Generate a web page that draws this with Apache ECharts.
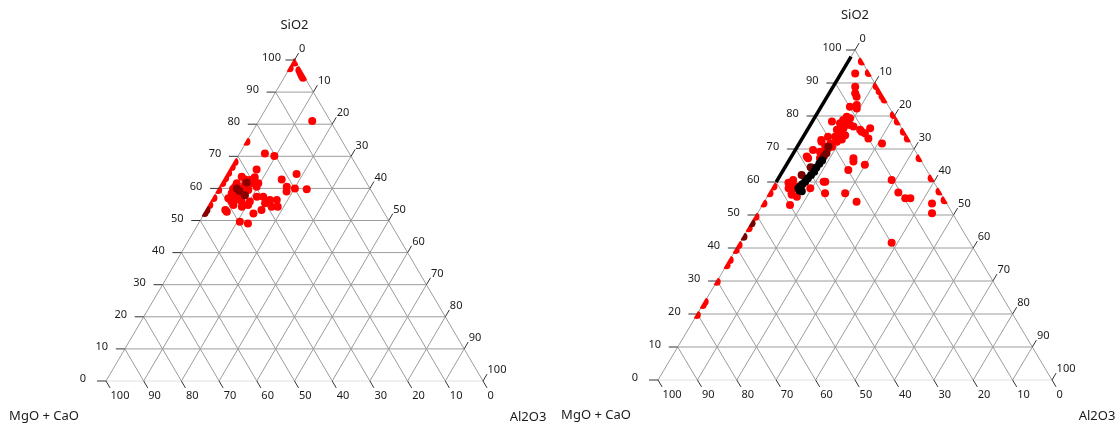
<!DOCTYPE html>
<html><head><meta charset="utf-8">
<script src="https://cdn.jsdelivr.net/npm/echarts@6/dist/echarts.min.js"></script>
<style>html,body{margin:0;padding:0;background:#fff}#c{width:1119px;height:427px}</style>
</head><body><div id="c"></div><script>
// Tick values shared by the three ternary axes
const ticks = [0, 10, 20, 30, 40, 50, 60, 70, 80, 90, 100];
const axisNames = ['SiO2', 'MgO + CaO', 'Al2O3'];

// Points as [SiO2, MgO + CaO, Al2O3]
const leftRed = [
  [70.9,22.4,6.7],[70.1,20.3,9.6],[65.9,27.1,7.0],[63.6,32.2,4.2],[62.8,31.7,5.5],[62.6,30.5,6.9],
  [63.5,28.8,7.7],[61.6,34.5,3.9],[60.5,35.5,4.0],[60.0,34.5,5.5],[61.1,32.6,6.3],[59.5,32.5,8.0],
  [60.5,29.8,9.7],[61.6,28.8,9.6],[61.6,30.6,7.8],[62.8,22.0,15.2],[64.5,17.2,18.3],[60.5,21.8,17.7],
  [60.0,19.9,20.1],[59.7,16.9,23.4],[59.0,22.6,18.4],[58.5,37.4,4.1],[57.9,36.4,5.7],[56.9,39.1,4.0],
  [56.4,37.6,6.0],[55.9,36.1,8.0],[55.9,33.9,10.2],[57.4,31.3,11.3],[57.4,29.6,13.0],[55.4,30.1,14.5],
  [56.4,28.3,15.3],[56.4,26.5,17.1],[54.3,28.9,16.8],[54.3,27.3,18.4],[53.3,32.1,14.6],[52.2,34.8,13.0],
  [53.3,41.7,5.0],[52.7,41.6,5.7],[54.8,38.8,6.4],[54.3,36.8,8.9],[54.8,34.9,10.3],[49.6,39.7,10.7],
  [49.1,37.8,13.1],[55.9,38.7,5.4],[57.2,36.3,6.5],[81.0,4.8,14.2],[59.5,35.2,5.3],[58.9,34.2,6.9],
  [59.8,36.4,3.8]
];
const leftEdge = [
  [74.5,25.5,0],[68.2,31.8,0],[66.7,33.3,0],[64.8,35.2,0],[63.2,36.8,0],[61.7,38.3,0],[59.5,40.5,0],
  [57.0,43.0,0],[54.8,45.2,0],[97.4,2.6,0],[99.2,0.4,0.4],[96.8,0.3,2.9],[96.0,0.4,3.6],[95.2,0.5,4.3],
  [94.5,0.5,5.0]
];
const leftDark = [
  [60.0,35.3,4.7],[61.8,31.8,6.4],[57.9,34.2,7.9],[53.3,46.7,0],[52.3,47.7,0],[59.2,35.0,5.8]
];

const rightRed = [
  [92.9,3.5,3.6],[88.9,5.5,5.6],[86.9,6.5,6.6],[85.8,6.7,7.5],[83.3,7.9,8.8],[82.8,9.9,7.3],
  [82.3,8.4,9.3],[79.8,12.2,8.0],[79.3,11.6,9.1],[78.8,13.6,7.6],[77.8,14.9,7.3],[78.3,16.7,5.0],
  [77.8,13.2,9.0],[77.3,12.6,10.1],[76.8,12.0,11.2],[76.3,14.8,8.9],[75.8,16.7,7.5],[74.8,16.4,8.8],
  [74.2,15.4,10.4],[73.7,18.2,8.1],[72.9,16.9,10.2],[72.2,18.5,9.3],[71.7,20.4,7.9],[75.8,10.8,13.4],
  [74.8,10.1,15.1],[76.3,8.0,15.7],[73.2,10.0,16.8],[71.7,7.3,21.0],[72.2,22.4,5.4],[70.7,22.2,7.1],
  [70.2,21.7,8.1],[70.7,20.5,8.8],[69.2,24.3,6.5],[68.7,23.2,8.1],[67.2,25.3,7.5],[67.2,28.3,4.5],
  [60.6,35.4,4.0],[59.6,36.7,3.7],[58.1,37.8,4.1],[58.1,36.6,5.3],[56.1,38.0,5.9],[55.5,37.0,7.5],
  [53.0,40.0,7.0],[58.1,32.3,9.6],[60.1,27.5,12.4],[67.2,16.8,16.0],[66.2,17.3,16.5],[63.6,19.9,16.5],
  [65.2,14.9,19.9],[56.6,24.2,19.2],[54.0,22.6,23.4],[60.6,10.4,29.0],[56.8,10.6,32.6],[55.1,9.7,35.2],
  [55.1,8.4,36.5],[53.5,3.7,42.8],[50.5,5.2,44.3],[41.6,19.9,38.5],[75.2,10.7,14.1],[67.7,28.4,3.9],
  [56.6,29.3,14.1],[69.7,25.8,4.5],[72.7,22.2,5.1],[73.7,20.0,6.3],[59.8,37.0,3.2],[58.6,35.5,5.9],
  [56.6,37.8,5.6],[60.1,27.9,12.0]
];
const rightEdge = [
  [96.5,0,3.5],[93.0,0,7.0],[89.0,0,11.0],[87.5,0,12.5],[86.0,0,14.0],[85.0,0,15.0],[80.3,0,19.7],
  [78.3,0,21.7],[75.2,0,24.8],[73.2,0,26.8],[67.2,0,32.8],[61.1,0,38.9],[57.1,0,42.9],[54.5,0,45.5],
  [58.6,41.4,0],[56.6,43.4,0],[53.5,46.5,0],[49.5,50.5,0],[46.0,54.0,0],[40.9,59.1,0],[39.4,60.6,0],
  [36.4,63.6,0],[34.8,65.2,0],[29.8,70.2,0],[23.7,76.3,0],[22.7,77.3,0],[19.7,80.3,0]
];
const rightDark = [
  [68.7,22.9,8.4],[66.7,25.2,8.1],[62.1,32.5,5.4],[70.7,21.4,7.9],[64.5,29.0,6.5],[67.8,24.0,8.2],
  [43.4,56.6,0],[47.5,52.5,0]
];
const rightBlack = [
  [66.5,25.1,8.4],[65.5,26.3,8.2],[64.4,27.6,8.0],[63.1,28.8,8.1],[62.1,30.1,7.8],[61.1,31.4,7.5],
  [60.1,32.6,7.3],[59.3,33.7,7.0],[58.6,34.6,6.8],[58.1,35.3,6.6],[57.4,35.4,7.2],[57.2,34.9,7.9]
];
const rightLine = [[60,40,0],[98,2,0]];

// ternary -> cartesian (x = Al2O3 + SiO2/2, y = SiO2), in percent
function toXY(t) {
  const s = t[0] + t[1] + t[2];
  const a = t[0] / s * 100, c = t[2] / s * 100;
  return [c + a / 2, a];
}

const FONT = '"Noto Sans", "Open Sans", sans-serif';
const GRID_C = '#9c9c9c', EDGE0_C = '#e0e0e0', TICK_C = '#333333', TXT_C = '#1a1a1a';

function frame(api) {
  const P = (a, b, c) => api.coord(toXY([a, b, c]));
  return {P: P, apex: P(100, 0, 0), bl: P(0, 100, 0), br: P(0, 0, 100)};
}

// grid lines (drawn under the points)
function gridLinesItem(params, api) {
  const v = api.value(0);
  const f = frame(api), P = f.P;
  const ch = [];
  const line = (p, q, color) => ch.push({type: 'line', shape: {x1: p[0], y1: p[1], x2: q[0], y2: q[1]},
    style: {stroke: color, lineWidth: 1}});
  if (v < 100) {
    line(P(v, 100 - v, 0), P(v, 0, 100 - v), v === 0 ? EDGE0_C : GRID_C);
    line(P(100 - v, v, 0), P(0, v, 100 - v), GRID_C);
    line(P(100 - v, 0, v), P(0, 100 - v, v), GRID_C);
  }
  return {type: 'group', children: ch};
}

// ticks, tick labels and axis names (drawn above the clip mask)
function ticksItem(params, api) {
  const v = api.value(0);
  const f = frame(api), P = f.P, apex = f.apex, bl = f.bl, br = f.br;
  const nrm = (p, q) => { const dx = q[0]-p[0], dy = q[1]-p[1], l = Math.hypot(dx, dy); return [dx/l, dy/l]; };
  const dR = nrm(apex, br), dL = nrm(bl, apex);
  const L = 8, LH = 9, FS = 11;
  const ch = [];
  const line = (p, q) => ch.push({type: 'line', shape: {x1: p[0], y1: p[1], x2: q[0], y2: q[1]},
    style: {stroke: TICK_C, lineWidth: 1}});
  const text = (s, x, y, align, va, size) => ch.push({type: 'text',
    style: {text: s, x: x, y: y, align: align, verticalAlign: va, fill: TXT_C, font: size + 'px ' + FONT}});
  const a1 = P(v, 100 - v, 0), b2 = P(0, v, 100 - v), c1 = P(100 - v, 0, v);
  line([a1[0] - LH, a1[1]], a1);
  text(String(v), a1[0] - LH - 14, a1[1] - 2, 'center', 'middle', FS);
  const be = [b2[0] + dR[0] * L, b2[1] + dR[1] * L];
  line(b2, be);
  text(String(v), be[0] + 0.5, be[1] + 2.5, 'left', 'top', FS);
  const ce = [c1[0] + dL[0] * L, c1[1] + dL[1] * L];
  line(c1, ce);
  text(String(v), ce[0] + 0.5, ce[1] + 1.5, 'left', 'bottom', FS);
  if (v === 0) {
    text(axisNames[0], apex[0], apex[1] - 35, 'center', 'middle', 13);
    text(axisNames[1], bl[0] - 62, bl[1] + 35, 'center', 'middle', 13);
    text(axisNames[2], br[0] + 45, br[1] + 36, 'center', 'middle', 13);
  }
  return {type: 'group', children: ch};
}

// white mask just outside the triangle: clips the points that sit on the edges
function maskItem(params, api) {
  const f = frame(api), apex = f.apex, bl = f.bl, br = f.br;
  const st = {fill: '#ffffff'};
  const top = apex[1] - 40, W = 80, g = 1.2;
  const blL = [bl[0] - g, bl[1]], apL = [apex[0] - g, apex[1]];
  const brR = [br[0] + g, br[1]], apR = [apex[0] + g, apex[1]];
  return {type: 'group', children: [
    {type: 'polygon', shape: {points: [blL, apL, [apL[0], top], [bl[0] - W, top], [bl[0] - W, bl[1]]]}, style: st},
    {type: 'polygon', shape: {points: [brR, apR, [apR[0], top], [br[0] + W, top], [br[0] + W, br[1]]]}, style: st},
    {type: 'rect', shape: {x: bl[0] - W, y: bl[1] + 1, width: br[0] - bl[0] + 2 * W, height: 30}, style: st}
  ]};
}

const tickData = ticks.map(v => [v, 0]);
function panel(i, sets) {
  const s = [];
  s.push({type: 'custom', xAxisIndex: i, yAxisIndex: i, z: 1, data: tickData, renderItem: gridLinesItem, silent: true});
  sets.forEach(d => s.push({type: 'scatter', xAxisIndex: i, yAxisIndex: i, z: 2, symbolSize: 8,
    data: d.pts.map(toXY), itemStyle: {color: d.color, opacity: 1}, silent: true}));
  s.push({type: 'custom', xAxisIndex: i, yAxisIndex: i, z: 3, data: [[0, 0]], renderItem: maskItem, silent: true});
  s.push({type: 'custom', xAxisIndex: i, yAxisIndex: i, z: 4, data: tickData, renderItem: ticksItem, silent: true});
  return s;
}

const series = [].concat(
  panel(0, [{pts: leftRed, color: '#ff0000'}, {pts: leftEdge, color: '#ff0000'}, {pts: leftDark, color: '#8a0000'}]),
  panel(1, [{pts: rightRed, color: '#ff0000'}, {pts: rightEdge, color: '#ff0000'},
            {pts: rightDark, color: '#7a0000'}, {pts: rightBlack, color: '#000000'}]),
  [{type: 'line', xAxisIndex: 1, yAxisIndex: 1, z: 5, data: rightLine.map(toXY), symbol: 'none',
    lineStyle: {color: '#000', width: 3.5}, silent: true}]
);

const ax = {type: 'value', min: 0, max: 100, show: false};
const chart = echarts.init(document.getElementById('c'), null, {renderer: 'canvas'});
chart.setOption({
  animation: false,
  backgroundColor: '#ffffff',
  grid: [
    {left: 106, top: 60, width: 377, height: 321},
    {left: 658, top: 50, width: 394, height: 330}
  ],
  xAxis: [Object.assign({gridIndex: 0}, ax), Object.assign({gridIndex: 1}, ax)],
  yAxis: [Object.assign({gridIndex: 0}, ax), Object.assign({gridIndex: 1}, ax)],
  series: series
});
</script></body></html>
